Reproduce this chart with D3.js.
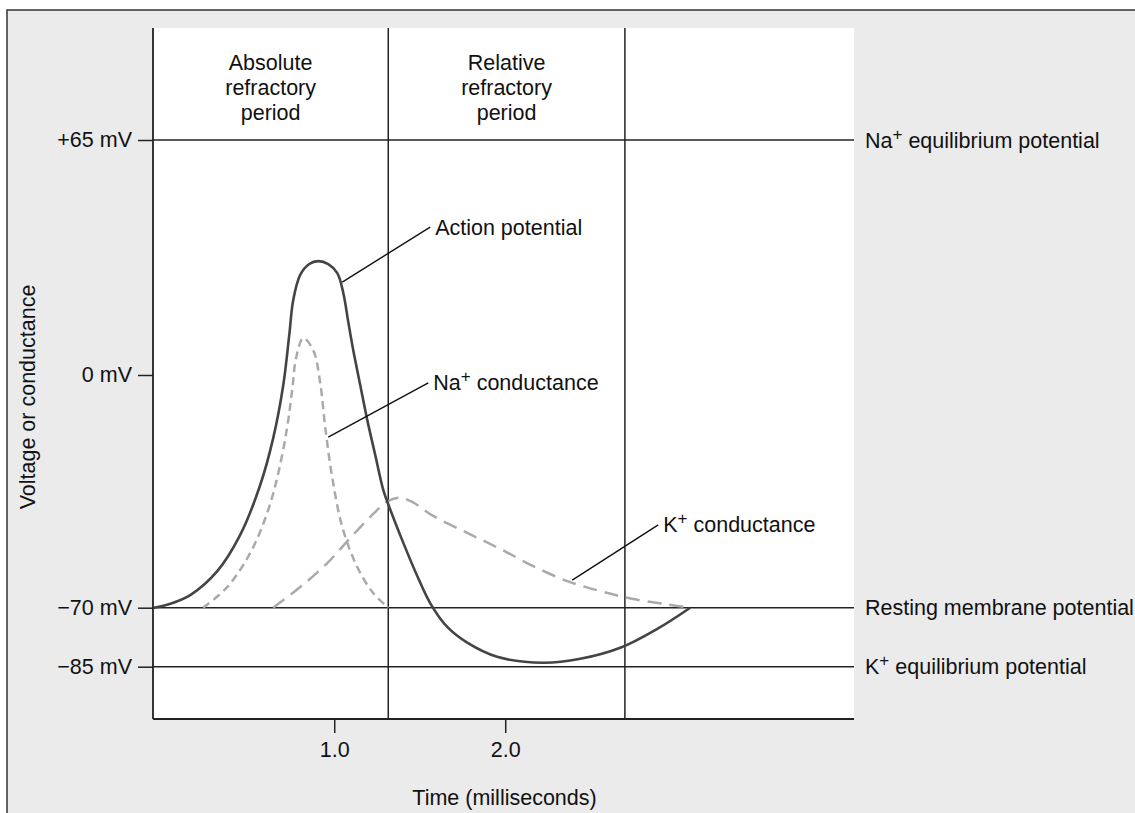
<!DOCTYPE html>
<html>
<head>
<meta charset="utf-8">
<script src="https://cdn.jsdelivr.net/npm/d3@7"></script>
<style>
  html, body { margin: 0; padding: 0; background: #fff; }
  svg { display: block; }
  text { font-family: "Liberation Sans", Arial, Helvetica, sans-serif; fill: #111; }
</style>
</head>
<body>
<svg id="chart" width="1135" height="813"></svg>
<script>
// Time axis (ms) and voltage ticks (mV)
const xTicks = [1.0, 2.0];
const yTicks = [65, 0, -70, -85];
const yTickLabels = ["+65 mV", "0 mV", "\u221270 mV", "\u221285 mV"];

// Reference potentials drawn across the plot
const refLevels = [65, -70, -85];
const refLabels = [["Na", "+", " equilibrium potential"], ["Resting membrane potential", "", ""], ["K", "+", " equilibrium potential"]];

// Period boundaries (ms)
const periodBounds = [1.316, 2.70];
const periodLabels = [["Absolute", "refractory", "period"], ["Relative", "refractory", "period"]];

// Action potential: time (ms), membrane voltage (mV)
const apTime = [-0.055, 0.041, 0.158, 0.316, 0.45, 0.567, 0.643, 0.702, 0.737, 0.76, 0.801, 0.854, 0.906, 0.965, 1.018, 1.053, 1.082, 1.111, 1.152, 1.193, 1.24, 1.287, 1.322, 1.404, 1.485, 1.561, 1.661, 1.778, 1.953, 2.222, 2.439, 2.673, 2.889, 3.082];
const apVolt = [-70, -68.8, -66.2, -59.0, -48.1, -33.1, -19.0, -3.0, 11.1, 20.7, 27.7, 30.7, 31.5, 30.7, 28.2, 22.7, 14.7, 6.9, -3.0, -13.5, -24.1, -34.6, -39.7, -50.5, -60.4, -68.6, -74.9, -78.9, -82.5, -84.0, -83.0, -80.2, -75.4, -70];

// Na+ conductance (relative scale, drawn on voltage axis)
const naTime = [0.234, 0.374, 0.509, 0.608, 0.673, 0.725, 0.754, 0.778, 0.819, 0.877, 0.918, 0.947, 0.988, 1.047, 1.135, 1.228, 1.316];
const naCond = [-70, -63.8, -53.5, -41.5, -29.5, -15.6, -4.5, 5.0, 10.2, 6.9, -2.4, -15.6, -30.7, -45.7, -57.8, -65.6, -70];

// K+ conductance (relative scale, drawn on voltage axis)
const kTime = [0.643, 0.801, 0.959, 1.094, 1.228, 1.316, 1.386, 1.456, 1.579, 1.778, 1.971, 2.164, 2.363, 2.556, 2.749, 2.947, 3.082];
const kCond = [-70, -63.8, -56.6, -49.0, -41.8, -37.9, -36.9, -38.2, -42.4, -47.5, -52.3, -57.5, -62.0, -65.0, -67.4, -69.0, -70];

// Callouts: leader from curve point to label
const callouts = [
  { name: ["Action potential", "", ""], from: [1.047, 25.7], to: [1.561, 40.9] },
  { name: ["Na", "+", " conductance"], from: [0.965, -18.7], to: [1.55, -2.4] },
  { name: ["K", "+", " conductance"], from: [2.392, -61.7], to: [2.895, -45.1] }
];

const svg = d3.select("#chart");
const W = 1135, H = 813;
const plot = { left: 153, right: 854, top: 28, bottom: 719 };

const x = d3.scaleLinear().domain([-0.06, 4.04]).range([plot.left, plot.right]);
// Schematic voltage axis: piecewise linear between labelled levels
const y = d3.scaleLinear().domain([-85, -70, 0, 65]).range([666.7, 607.7, 375, 140]);

const FS = 21.5;
const ink = "#222";

// Outer panel
svg.append("rect").attr("x", 7).attr("y", 10).attr("width", W).attr("height", H)
  .attr("fill", "#ebebeb").attr("stroke", "#333").attr("stroke-width", 1.5);

// Plot area
svg.append("rect").attr("x", plot.left).attr("y", plot.top)
  .attr("width", plot.right - plot.left).attr("height", plot.bottom - plot.top)
  .attr("fill", "#fff");

// Reference levels
svg.append("g").selectAll("line").data(refLevels).join("line")
  .attr("x1", plot.left).attr("x2", plot.right)
  .attr("y1", d => y(d)).attr("y2", d => y(d))
  .attr("stroke", ink).attr("stroke-width", 1.5);

// Period boundaries
svg.append("g").selectAll("line").data(periodBounds).join("line")
  .attr("x1", d => x(d)).attr("x2", d => x(d))
  .attr("y1", plot.top).attr("y2", plot.bottom)
  .attr("stroke", ink).attr("stroke-width", 1.5);

// Period labels
const bounds = [plot.left, ...periodBounds.map(x)];
periodLabels.forEach((lines, i) => {
  const cx = (bounds[i] + bounds[i + 1]) / 2;
  const t = svg.append("text").attr("text-anchor", "middle").attr("font-size", FS);
  lines.forEach((s, j) => t.append("tspan").attr("x", cx).attr("y", 70 + j * 25).text(s));
});

// Y axis
const yAxis = d3.axisLeft(y).tickValues(yTicks).tickFormat((d, i) => yTickLabels[i])
  .tickSize(15).tickPadding(6);
const gy = svg.append("g").attr("transform", `translate(${plot.left},0)`).call(yAxis);
gy.select(".domain").remove();
gy.selectAll(".tick line").attr("stroke", ink).attr("stroke-width", 1.5);
gy.selectAll(".tick text").attr("font-size", FS).attr("fill", "#111")
  .attr("font-family", "Liberation Sans, Arial, sans-serif");
svg.append("line").attr("x1", plot.left).attr("x2", plot.left)
  .attr("y1", plot.top).attr("y2", plot.bottom).attr("stroke", ink).attr("stroke-width", 1.8);

// X axis
const xAxis = d3.axisBottom(x).tickValues(xTicks).tickFormat(d3.format(".1f"))
  .tickSize(14).tickPadding(9);
const gx = svg.append("g").attr("transform", `translate(0,${plot.bottom})`).call(xAxis);
gx.select(".domain").remove();
gx.selectAll(".tick line").attr("stroke", ink).attr("stroke-width", 1.5);
gx.selectAll(".tick text").attr("font-size", FS).attr("fill", "#111")
  .attr("font-family", "Liberation Sans, Arial, sans-serif");
svg.append("line").attr("x1", plot.left).attr("x2", plot.right)
  .attr("y1", plot.bottom).attr("y2", plot.bottom).attr("stroke", ink).attr("stroke-width", 1.8);

// Axis titles
svg.append("text").attr("x", (plot.left + plot.right) / 2 + 1).attr("y", 805)
  .attr("text-anchor", "middle").attr("font-size", FS).text("Time (milliseconds)");
svg.append("text").attr("transform", "translate(35,397) rotate(-90)")
  .attr("text-anchor", "middle").attr("font-size", FS).text("Voltage or conductance");

// Text with optional superscript
function supText(sel, parts) {
  sel.append("tspan").text(parts[0]);
  if (parts[1]) sel.append("tspan").attr("font-size", 17).attr("dy", -8).text(parts[1]);
  if (parts[2]) sel.append("tspan").attr("dy", parts[1] ? 8 : 0).text(parts[2]);
}

// Right-side level labels
refLevels.forEach((lv, i) => {
  const t = svg.append("text").attr("x", plot.right + 11).attr("y", y(lv) + 7.5).attr("font-size", FS);
  supText(t, refLabels[i]);
});

// Curves
const line = d3.line().x(d => x(d[0])).y(d => y(d[1])).curve(d3.curveCatmullRom.alpha(0.5));

svg.append("path").datum(kTime.map((t, i) => [t, kCond[i]]))
  .attr("d", line).attr("fill", "none").attr("stroke", "#aaa")
  .attr("stroke-width", 2.5).attr("stroke-dasharray", "14,8");

svg.append("path").datum(naTime.map((t, i) => [t, naCond[i]]))
  .attr("d", line).attr("fill", "none").attr("stroke", "#aaa")
  .attr("stroke-width", 2.5).attr("stroke-dasharray", "8,5");

svg.append("path").datum(apTime.map((t, i) => [t, apVolt[i]]))
  .attr("d", line).attr("fill", "none").attr("stroke", "#444")
  .attr("stroke-width", 2.6).attr("stroke-linejoin", "round");

// Callouts
callouts.forEach(c => {
  svg.append("line")
    .attr("x1", x(c.from[0])).attr("y1", y(c.from[1]))
    .attr("x2", x(c.to[0])).attr("y2", y(c.to[1]))
    .attr("stroke", "#111").attr("stroke-width", 1.4);
  const t = svg.append("text").attr("x", x(c.to[0]) + 5).attr("y", y(c.to[1]) + 7.5).attr("font-size", FS);
  supText(t, c.name);
});
</script>
</body>
</html>
